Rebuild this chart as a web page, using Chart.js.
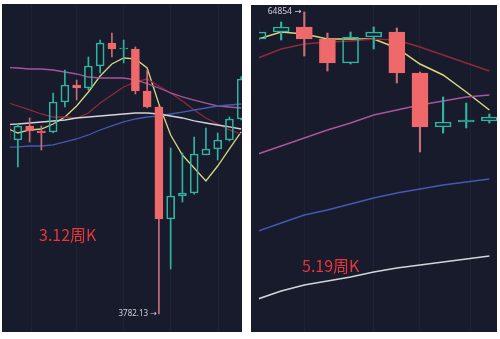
<!DOCTYPE html>
<html>
<head>
<meta charset="utf-8">
<script src="https://cdn.jsdelivr.net/npm/chart.js@4.4.1/dist/chart.umd.min.js"></script>
<style>
  html, body { margin: 0; padding: 0; background: #ffffff; }
  #wrap { position: relative; width: 500px; height: 339px; overflow: hidden; background: #ffffff; }
  .panel { position: absolute; background: #181b2c; overflow: hidden; }
  #panelL { left: 2px; top: 4px; width: 240px; height: 328px; }
  #panelR { left: 251px; top: 5px; width: 246px; height: 327px; }
  .panel canvas { position: absolute; left: 0; top: 0; }
  .tag { position: absolute; color: #e8363c; font-family: "Noto Sans CJK SC", "Noto Sans", sans-serif;
         font-size: 16px; line-height: 16px; white-space: nowrap; }
</style>
</head>
<body>
<div id="wrap">
  <div class="panel" id="panelL">
    <canvas id="chartL" width="240" height="328"></canvas>
    <div class="tag" style="left:37px; top:222px;">3.12周K</div>
  </div>
  <div class="panel" id="panelR">
    <canvas id="chartR" width="246" height="327"></canvas>
    <div class="tag" style="left:51px; top:252px;">5.19周K</div>
  </div>
</div>
<script>
// ---- Weekly BTC candles around the March 2020 crash ----
const leftWeeks = ['2019-12-09','2019-12-16','2019-12-23','2019-12-30','2020-01-06','2020-01-13','2020-01-20',
  '2020-01-27','2020-02-03','2020-02-10','2020-02-17','2020-02-24','2020-03-02','2020-03-09','2020-03-16',
  '2020-03-23','2020-03-30','2020-04-06','2020-04-13','2020-04-20','2020-04-27'];
const leftOpen  = [7546, 7144, 7519, 7383, 7356, 8208, 8734, 8639, 9362, 10183, 9963, 9963, 8545, 8059, 5352, 5821, 5886, 6762, 6913, 7144, 7714];
const leftHigh  = [7700, 7574, 7742, 7519, 8483, 9227, 8896, 9676, 10296, 10563, 10296, 10036, 9227, 8089, 6938, 6812, 7223, 7464, 7329, 7770, 9000];
const leftLow   = [7050, 6473, 7092, 6888, 7329, 8059, 8268, 8576, 9126, 9676, 9466, 8452, 8030, 3782.13, 4458, 5695, 5860, 6762, 6640, 7118, 7686];
const leftClose = [7144, 7519, 7383, 7329, 8208, 8734, 8639, 9362, 10183, 9963, 9999, 8545, 8059, 5352, 5821, 5886, 6787, 6913, 7144, 7714, 8928];
const leftMaYellow = [7464, 7329, 7410, 7437, 7574, 7770, 8089, 8514, 9026, 9431, 9641, 9606, 9294, 8148, 7276, 6762, 6449, 6149, 6496, 6913, 7356];
const leftMaRed    = [8208, 8089, 7972, 7856, 7770, 7770, 7742, 7885, 8178, 8421, 8671, 8831, 8928, 8702, 8483, 8238, 7972, 7742, 7574, 7410, 7302];
const leftMaPink   = [9310, 9294, 9260, 9260, 9227, 9159, 9093, 8993, 8961, 8961, 8961, 8896, 8780, 8639, 8483, 8360, 8268, 8178, 8089, 8059, 8030];
const leftMaWhite  = [7560, 7574, 7602, 7630, 7658, 7686, 7742, 7770, 7799, 7827, 7856, 7885, 7885, 7856, 7799, 7742, 7658, 7602, 7546, 7492, 7437];
const leftMaBlue   = [6960, 6964, 6989, 6989, 7015, 7092, 7170, 7276, 7410, 7519, 7630, 7714, 7770, 7799, 7856, 7913, 7972, 8030, 8089, 8118, 8148];

// ---- Weekly BTC candles around the May 2021 crash ----
const rightWeeks = ['2021-03-29','2021-04-05','2021-04-12','2021-04-19','2021-04-26','2021-05-03','2021-05-10',
  '2021-05-17','2021-05-24','2021-05-31','2021-06-07'];
const rightOpen  = [55979, 58157, 59763, 55979, 49116, 56593, 58157, 46511, 34654, 35611, 35806];
const rightHigh  = [59116, 61414, 64854, 57841, 58157, 59763, 59439, 46765, 40809, 39496, 37198];
const rightLow   = [55373, 55675, 51026, 47020, 48849, 53010, 44044, 30241, 33540, 34466, 35418];
const rightClose = [58157, 59763, 55979, 49116, 56593, 58157, 46511, 34654, 35611, 36002, 36595];
const rightMaYellow = [55979, 58157, 57526, 55979, 55979, 55979, 53300, 48849, 46007, 41936, 38018];
const rightMaRed    = [50473, 53010, 54475, 55072, 55373, 55979, 55675, 53591, 51305, 49116, 47020];
const rightMaPink   = [29913, 31246, 32638, 34092, 35418, 36996, 38018, 39068, 39929, 40809, 41256];
const rightMaBlue   = [19661, 20537, 21453, 22045, 22778, 23535, 24185, 24719, 25263, 25679, 26103];
const rightMaWhite  = [13573, 14177, 14649, 14971, 15301, 15724, 16070, 16335, 16605, 16878, 17157];

const UP = '#2fb4a1';
const DOWN = '#f0696a';
const DOWN_WICK = '#c47078';
const GRID = 'rgba(255,255,255,0.03)';
const MA_COLORS = { yellow: '#d8d67c', red: '#8e2a3b', pink: '#a8559d', white: '#d4d4dc', blue: '#4658b2' };

// Writes the extreme price next to its wick: "price →"
const extremeLabel = {
  id: 'extremeLabel',
  afterDatasetsDraw(chart, args, opts) {
    const { ctx, scales: { x, y } } = chart;
    const px = x.getPixelForValue(opts.index);
    const py = y.getPixelForValue(opts.value);
    ctx.save();
    ctx.font = opts.font;
    ctx.fillStyle = opts.color;
    ctx.textAlign = 'right';
    ctx.textBaseline = 'middle';
    ctx.fillText(String(opts.value) + ' →', px - opts.gap, py);
    ctx.restore();
  }
};

function candleChart(canvasId, weeks, open, high, low, close, mas, view, mark) {
  const idx = weeks.map((_, i) => i);
  const up = idx.map(i => close[i] >= open[i]);
  const wickColors = up.map(u => u ? UP : DOWN_WICK);
  const wickStyle = { type: 'bar', backgroundColor: wickColors, borderWidth: 0, barThickness: view.wick,
                      grouped: false, order: 2 };
  const datasets = [
    { type: 'bar', data: idx.map(i => ({ x: i, y: [open[i], close[i]] })),
      backgroundColor: up.map(u => u ? 'rgba(0,0,0,0)' : DOWN),
      borderColor: up.map(u => u ? UP : DOWN),
      borderWidth: 1, borderSkipped: false, barThickness: view.body, grouped: false, order: 1 },
    Object.assign({ data: idx.map(i => ({ x: i, y: [Math.max(open[i], close[i]), high[i]] })) }, wickStyle),
    Object.assign({ data: idx.map(i => ({ x: i, y: [low[i], Math.min(open[i], close[i])] })) }, wickStyle)
  ];
  mas.forEach(m => datasets.push({
    type: 'line', data: m.values.map((v, i) => ({ x: i, y: v })), borderColor: m.color,
    borderWidth: view.line, pointRadius: 0, tension: 0, fill: false, order: 3
  }));

  return new Chart(document.getElementById(canvasId), {
    type: 'bar',
    data: { datasets },
    options: {
      responsive: false, animation: false, events: [],
      layout: { padding: 0 },
      plugins: { legend: { display: false }, tooltip: { enabled: false }, extremeLabel: mark },
      scales: {
        x: { type: 'linear', offset: false, min: view.xMin, max: view.xMax,
             ticks: { display: false, stepSize: view.xStep },
             grid: { color: GRID, drawTicks: false }, border: { display: false } },
        y: { type: 'logarithmic', min: view.yMin, max: view.yMax,
             ticks: { display: false },
             grid: { display: false }, border: { display: false } }
      }
    },
    plugins: [extremeLabel]
  });
}

const lowIdx = leftLow.indexOf(Math.min(...leftLow));
candleChart('chartL', leftWeeks, leftOpen, leftHigh, leftLow, leftClose, [
    { values: leftMaWhite, color: MA_COLORS.white },
    { values: leftMaBlue, color: MA_COLORS.blue },
    { values: leftMaPink, color: MA_COLORS.pink },
    { values: leftMaRed, color: MA_COLORS.red },
    { values: leftMaYellow, color: MA_COLORS.yellow }
  ],
  { xMin: 0.33, xMax: 20.07, xStep: 4, yMin: 3541, yMax: 11744, body: 8, wick: 1, line: 1.3 },
  { index: lowIdx, value: leftLow[lowIdx], font: '8px "Noto Sans", "DejaVu Sans", sans-serif',
    color: '#cfd0da', gap: 2 });

const highIdx = rightHigh.indexOf(Math.max(...rightHigh));
candleChart('chartR', rightWeeks, rightOpen, rightHigh, rightLow, rightClose, [
    { values: rightMaWhite, color: MA_COLORS.white },
    { values: rightMaBlue, color: MA_COLORS.blue },
    { values: rightMaPink, color: MA_COLORS.pink },
    { values: rightMaRed, color: MA_COLORS.red },
    { values: rightMaYellow, color: MA_COLORS.yellow }
  ],
  { xMin: 0.042, xMax: 10.33, xStep: 2, yMin: 11339, yMax: 67376, body: 16, wick: 1.5, line: 1.5 },
  { index: highIdx, value: rightHigh[highIdx], font: '8.5px "Noto Sans", "DejaVu Sans", sans-serif',
    color: '#cfd0da', gap: 3 });
</script>
</body>
</html>
